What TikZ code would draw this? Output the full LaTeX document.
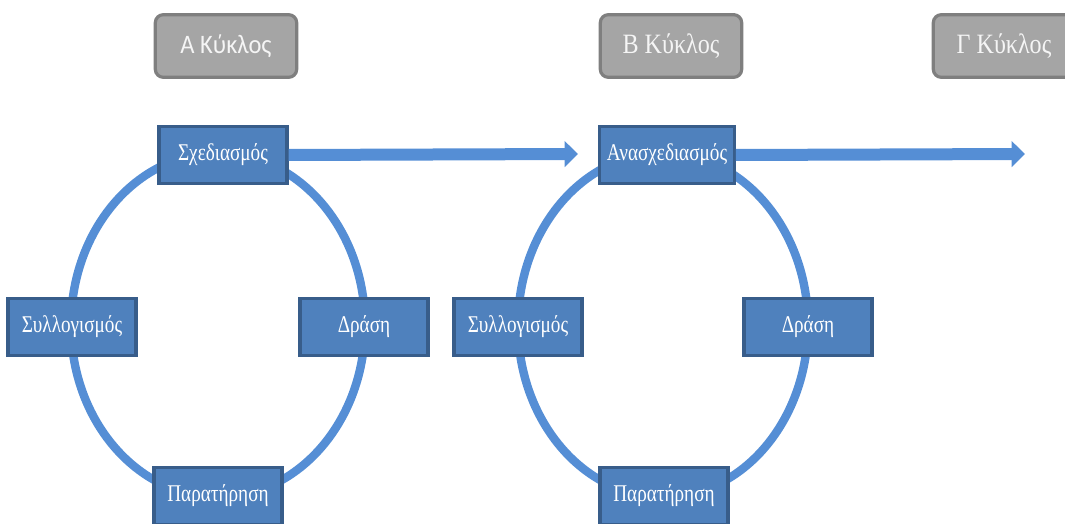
\documentclass[tikz,border=0pt]{standalone}
\usepackage{fontspec}
\setmainfont{Liberation Serif}
\newfontfamily\boxfont[FakeStretch=0.8]{Liberation Serif}
\newfontfamily\cyclefont[FakeStretch=0.86]{Liberation Serif}
\newfontfamily\cyclesans[FakeStretch=0.92]{Carlito}
\usetikzlibrary{arrows.meta}
\definecolor{ringblue}{HTML}{558ED5}
\definecolor{boxblue}{HTML}{4F81BD}
\definecolor{boxedge}{HTML}{385D8A}
\definecolor{grayfill}{HTML}{A5A5A5}
\definecolor{grayedge}{HTML}{7F7F7F}
\tikzset{
 stagebox/.style={rectangle, fill=boxblue, draw=boxedge, line width=2.4pt, minimum width=96pt, minimum height=43pt, text=white, font=\boxfont\fontsize{18}{20}\selectfont, inner sep=2pt},
 cyclebox/.style={rectangle, rounded corners=6pt, fill=grayfill, draw=grayedge, line width=2.4pt, minimum width=106pt, minimum height=47pt, text=white!92!gray, font=\cyclefont\fontsize{21}{24}\selectfont, inner sep=0pt},
 ring/.style={draw=ringblue, line width=6.3pt},
 flow/.style={draw=ringblue, line width=9pt, -{Triangle[length=10pt,width=19pt]}}
}
\begin{document}
\begin{tikzpicture}[x=0.75pt,y=-0.75pt]
\useasboundingbox (0,0) rectangle (1065,524);
% rings
\draw[ring] (218,325) ellipse [x radius=147, y radius=172];
\draw[ring] (663,325) ellipse [x radius=145, y radius=172];
% arrow end points
\coordinate (a1end) at (578,154);
\coordinate (a2end) at (1025,154);
% cycle 1 stages
\node[stagebox] (s1) at (223,155) {Σχεδιασμός};
\node[stagebox] (l1) at (72,327) {Συλλογισμός};
\node[stagebox] (d1) at (364,327) {Δράση};
\node[stagebox] (p1) at (218,496) {Παρατήρηση};
% cycle 2 stages
\node[stagebox, minimum width=101pt] (s2) at (667,155) {Ανασχεδιασμός};
\node[stagebox] (l2) at (518,327) {Συλλογισμός};
\node[stagebox] (d2) at (808,327) {Δράση};
\node[stagebox] (p2) at (664,496) {Παρατήρηση};
% arrows
\draw[flow] (s1.east) -- (a1end);
\draw[flow] (s2.east) -- (a2end);
% cycle labels
\node[cyclebox, font=\cyclesans\fontsize{20}{24}\selectfont] (c1) at (226,46) {Α Κύκλος};
\node[cyclebox] (c2) at (671,46) {Β Κύκλος};
\node[cyclebox] (c3) at (1004,46) {Γ Κύκλος};
\end{tikzpicture}
\end{document}
